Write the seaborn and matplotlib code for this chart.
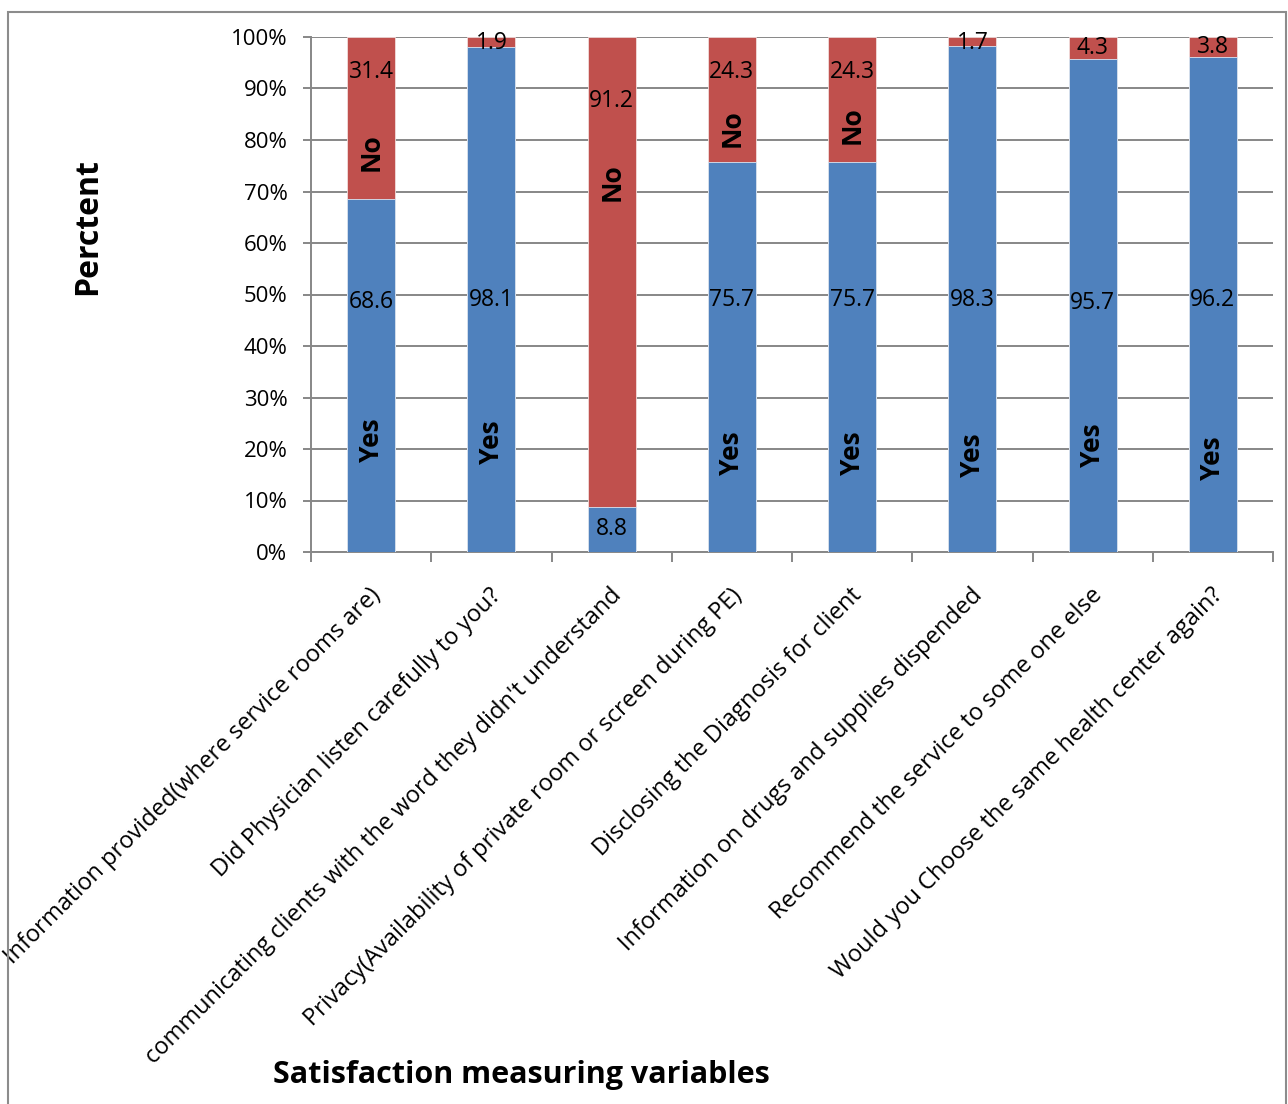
import matplotlib
matplotlib.use("Agg")
import matplotlib.pyplot as plt
import matplotlib.patches as mpatches
import matplotlib.transforms as mtransforms
from matplotlib.ticker import FuncFormatter, FixedLocator
import seaborn as sns
import pandas as pd

# Survey items and percentages of respondents answering Yes / No
categories = [
    "Information provided(where service rooms are)",
    "Did Physician listen carefully to you?",
    "communicating clients with the word they didn't understand",
    "Privacy(Availability of private room or screen during PE)",
    "Disclosing the Diagnosis for client",
    "Information on drugs and supplies dispended",
    "Recommend the service to some one else",
    "Would you Choose the same health center again?",
]
yes_pct = [68.6, 98.1, 8.8, 75.7, 75.7, 98.3, 95.7, 96.2]
no_pct = [31.4, 1.9, 91.2, 24.3, 24.3, 1.7, 4.3, 3.8]

# Label placement (percent height) for the in-bar annotations
yes_value_y = [48.6, 49.0, 4.4, 49.0, 49.0, 49.0, 48.4, 49.0]
no_value_y = [93.2, 98.9, 87.6, 93.2, 93.2, 98.9, 97.8, 98.0]
yes_word_y = [21.7, 21.3, None, 19.2, 19.2, 18.8, 20.8, 18.3]
no_word_y = [77.6, None, 71.8, 82.4, 82.8, None, None, None]

BLUE = "#4F81BD"
RED = "#C0504D"
GRID = "#878787"

sns.set_theme(style="white")
plt.rcParams["font.family"] = ["Open Sans", "DejaVu Sans"]

df = pd.DataFrame({
    "item": categories,
    "Yes": yes_pct,
    "No": no_pct,
})
df["Total"] = df["Yes"] + df["No"]

fig = plt.figure(figsize=(12.88, 11.04), dpi=100)
ax = fig.add_axes([311 / 1288, 0.5, (1273 - 311) / 1288, (552 - 37) / 1104])

# Stacked bars: full height in red, Yes share in blue on top of it
sns.barplot(data=df, x="item", y="Total", color=RED, saturation=1, width=0.4,
            edgecolor="#F2DCDB", linewidth=0.6, ax=ax, zorder=3)
sns.barplot(data=df, x="item", y="Yes", color=BLUE, saturation=1, width=0.4,
            edgecolor="#DCE6F2", linewidth=0.6, ax=ax, zorder=4)

ax.set_xlim(-0.5, len(categories) - 0.5)
ax.set_ylim(0, 100)
ax.set_yticks(range(0, 101, 10))
ax.yaxis.set_major_formatter(FuncFormatter(lambda v, _: f"{v:.0f}%"))
ax.yaxis.grid(True, color=GRID, linewidth=1.4, zorder=0)
ax.set_axisbelow(True)

for side in ("top", "right"):
    ax.spines[side].set_visible(False)
for side in ("left", "bottom"):
    ax.spines[side].set_color(GRID)
    ax.spines[side].set_linewidth(1.4)

ax.tick_params(axis="y", which="major", direction="out", length=6, width=1.4,
               color=GRID, labelsize=16, labelcolor="black", pad=11, left=True)
ax.tick_params(axis="x", which="major", length=0, labelsize=17,
               labelcolor="black", pad=4)
ax.xaxis.set_minor_locator(FixedLocator([i + 0.5 for i in range(-1, len(categories))]))
ax.tick_params(axis="x", which="minor", direction="out", length=7, width=1.4,
               color=GRID, bottom=True)

ax.set_xticks(range(len(categories)))
ax.set_xticklabels(categories, rotation=45, ha="right", va="top",
                   rotation_mode="anchor")
for lab in ax.get_xticklabels():
    lab.set_transform(lab.get_transform() +
                      mtransforms.ScaledTranslation(-0.02, -0.26, fig.dpi_scale_trans))

ax.set_xlabel("")
ax.set_ylabel("")

# Value and category annotations inside the bars
for i in range(len(categories)):
    ax.text(i, yes_value_y[i], f"{yes_pct[i]:.1f}", ha="center", va="center",
            fontsize=16.5, color="black", zorder=6)
    ax.text(i, no_value_y[i], f"{no_pct[i]:.1f}", ha="center", va="center",
            fontsize=16.5, color="black", zorder=6)
    if yes_word_y[i] is not None:
        ax.text(i, yes_word_y[i], "Yes", ha="center", va="center", rotation=90,
                fontsize=19, fontweight="bold", color="black", zorder=6)
    if no_word_y[i] is not None:
        ax.text(i, no_word_y[i], "No", ha="center", va="center", rotation=90,
                fontsize=19, fontweight="bold", color="black", zorder=6)

fig.text(88 / 1288, 1 - 227 / 1104, "Perctent", rotation=90, ha="center",
         va="center", fontsize=23, fontweight="bold", color="black")
fig.text(521 / 1288, 1 - 1075 / 1104, "Satisfaction measuring variables",
         ha="center", va="center", fontsize=22, fontweight="bold", color="black")

# Chart frame
fig.patches.append(mpatches.Rectangle((8 / 1288, -0.02), (1286 - 8) / 1288,
                                      1 - 12 / 1104 + 0.02, transform=fig.transFigure,
                                      fill=False, edgecolor="#8C8C8C", linewidth=1.5))

fig.savefig("out.png", dpi=100)
